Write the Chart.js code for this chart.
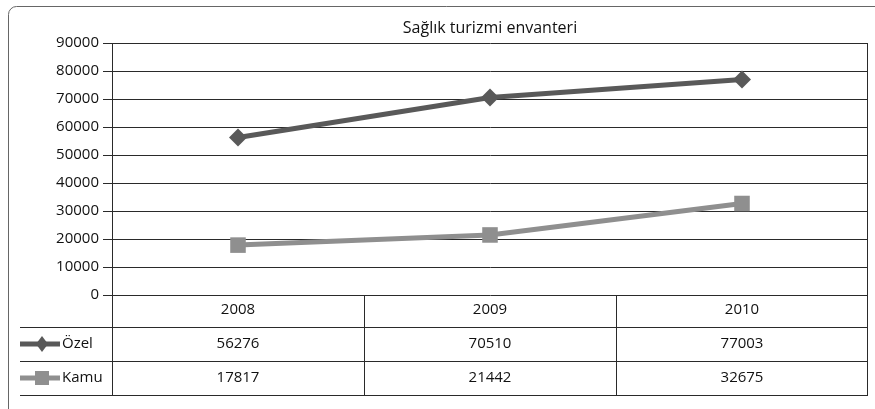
<!DOCTYPE html>
<html>
<head>
<meta charset="utf-8">
<script src="https://cdn.jsdelivr.net/npm/chart.js@4"></script>
<style>
    html, body { margin: 0; padding: 0; background: #fff; }
    #chart { display: block; }
</style>
</head>
<body>
<canvas id="chart" width="875" height="409"></canvas>
<script>
// Data
const years = ["2008", "2009", "2010"];
const ozelValues = [56276, 70510, 77003];
const kamuValues = [17817, 21442, 32675];
const seriesNames = ["Özel", "Kamu"];
const chartTitle = "Sağlık turizmi envanteri";

const ozelColor = "#595959";
const kamuColor = "#8f8f8f";
const lineColor = "#2a2a2a";
const textColor = "#111";
const fontFamily = '"Open Sans", "DejaVu Sans", sans-serif';

// Data table under the plot: rows drawn from the same arrays and x scale
const dataTable = {
    id: "dataTable",
    beforeDraw(chart) {
        const ctx = chart.ctx;
        ctx.save();
        ctx.strokeStyle = "#666";
        ctx.lineWidth = 1;
        ctx.beginPath();
        ctx.roundRect(8.5, 6.5, 900, 450, 8);
        ctx.stroke();
        ctx.restore();
    },
    afterDraw(chart) {
        const ctx = chart.ctx;
        const area = chart.chartArea;
        const xScale = chart.scales.x;
        const colW = (area.right - area.left) / years.length;
        const headerBottom = area.bottom + 32;
        const rowH = 34;
        const tableBottom = headerBottom + rowH * 2;
        const keyLeft = 20;

        ctx.save();
        ctx.strokeStyle = lineColor;
        ctx.lineWidth = 1;

        // horizontal rules
        [headerBottom, headerBottom + rowH, tableBottom].forEach(y => {
            ctx.beginPath();
            ctx.moveTo(keyLeft, Math.round(y) + 0.5);
            ctx.lineTo(area.right, Math.round(y) + 0.5);
            ctx.stroke();
        });

        // right border of plot
        ctx.beginPath();
        ctx.moveTo(Math.round(area.right) - 0.5, area.top);
        ctx.lineTo(Math.round(area.right) - 0.5, tableBottom);
        ctx.stroke();

        // column dividers
        for (let k = 0; k < years.length; k++) {
            const x = Math.round(area.left + k * colW) + 0.5;
            ctx.beginPath();
            ctx.moveTo(x, area.bottom);
            ctx.lineTo(x, tableBottom);
            ctx.stroke();
        }

        // values
        ctx.fillStyle = textColor;
        ctx.font = "15px " + fontFamily;
        ctx.textAlign = "center";
        ctx.textBaseline = "middle";
        const rows = [ozelValues, kamuValues];
        rows.forEach((vals, r) => {
            const yMid = headerBottom + rowH * r + rowH / 2;
            vals.forEach((v, i) => {
                ctx.fillText(String(v), xScale.getPixelForValue(i), yMid);
            });
        });

        // legend keys
        const keyColors = [ozelColor, kamuColor];
        rows.forEach((vals, r) => {
            const yMid = headerBottom + rowH * r + rowH / 2;
            ctx.strokeStyle = keyColors[r];
            ctx.fillStyle = keyColors[r];
            ctx.lineWidth = 5;
            ctx.beginPath();
            ctx.moveTo(keyLeft, yMid);
            ctx.lineTo(keyLeft + 40, yMid);
            ctx.stroke();
            const cx = keyLeft + 22;
            ctx.beginPath();
            if (r === 0) {
                ctx.moveTo(cx, yMid - 8);
                ctx.lineTo(cx + 6, yMid);
                ctx.lineTo(cx, yMid + 8);
                ctx.lineTo(cx - 6, yMid);
                ctx.closePath();
            } else {
                ctx.rect(cx - 7, yMid - 7, 14, 14);
            }
            ctx.fill();
            ctx.fillStyle = textColor;
            ctx.textAlign = "left";
            ctx.fillText(seriesNames[r], keyLeft + 42, yMid);
        });
        ctx.restore();
    }
};

new Chart(document.getElementById("chart").getContext("2d"), {
    type: "line",
    data: {
        labels: years,
        datasets: [
            {
                label: seriesNames[0],
                data: ozelValues,
                borderColor: ozelColor,
                backgroundColor: ozelColor,
                borderWidth: 5,
                pointStyle: "rectRot",
                pointRadius: 9,
                pointBorderWidth: 0,
                tension: 0
            },
            {
                label: seriesNames[1],
                data: kamuValues,
                borderColor: kamuColor,
                backgroundColor: kamuColor,
                borderWidth: 5,
                pointStyle: "rect",
                pointRadius: 11,
                pointBorderWidth: 0,
                tension: 0
            }
        ]
    },
    options: {
        responsive: false,
        animation: false,
        devicePixelRatio: 1,
        layout: { autoPadding: false, padding: { left: 0, top: 0, right: 7, bottom: 82 } },
        plugins: {
            legend: { display: false },
            tooltip: { enabled: false },
            title: {
                display: true,
                text: chartTitle,
                fullSize: false,
                color: textColor,
                font: { family: fontFamily, size: 16, weight: "normal", lineHeight: "18px" },
                padding: { top: 19, bottom: 6 }
            }
        },
        scales: {
            x: {
                offset: true,
                grid: { display: false, drawTicks: false },
                border: { display: false },
                ticks: { color: textColor, font: { family: fontFamily, size: 15 }, padding: 6 },
                afterFit(scale) { scale.height = 32; }
            },
            y: {
                min: 0,
                max: 90000,
                ticks: {
                    stepSize: 10000,
                    color: textColor,
                    font: { family: fontFamily, size: 15 },
                    padding: 4,
                    callback: value => String(value)
                },
                grid: { color: lineColor, lineWidth: 1, tickLength: 9 },
                border: { display: true, color: lineColor, width: 1 },
                afterFit(scale) { scale.width = 112; }
            }
        }
    },
    plugins: [dataTable]
});
</script>
</body>
</html>
